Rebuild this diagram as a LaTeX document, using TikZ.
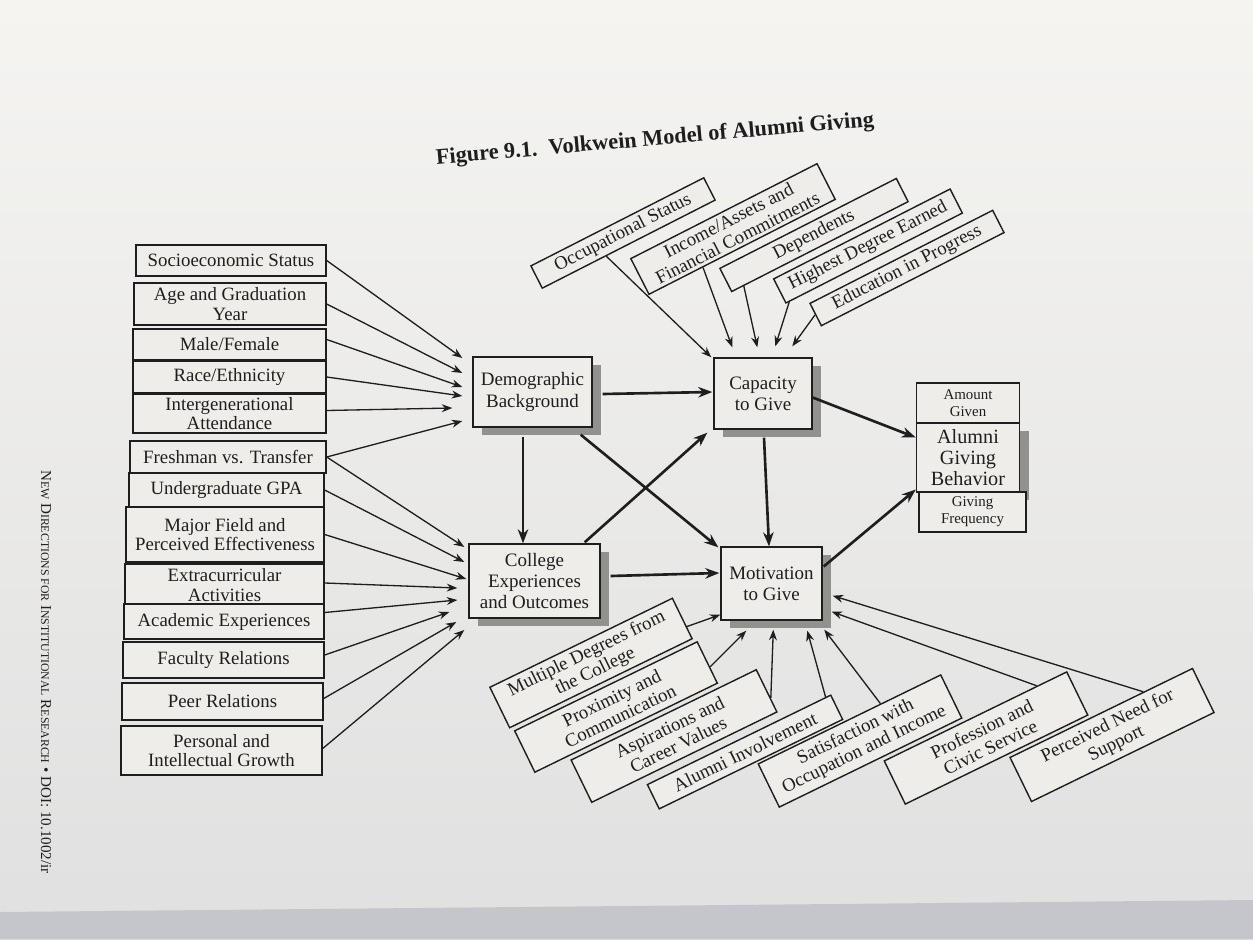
\documentclass[tikz,border=0pt]{standalone}
\usepackage{fontspec}
\setmainfont{Liberation Serif}
\usetikzlibrary{arrows.meta,calc,shadows}
\definecolor{paperT}{RGB}{245,244,241}
\definecolor{paperB}{RGB}{224,224,224}
\definecolor{paper}{RGB}{238,237,233}
\definecolor{band}{RGB}{196,198,204}
\definecolor{ink}{RGB}{30,30,30}
\definecolor{shade}{RGB}{145,145,141}
\newcommand\fsc[1]{{\fontsize{6.7}{7}\selectfont #1}}
\begin{document}
\begin{tikzpicture}[x=0.02cm,y=-0.02cm,
  box/.style={draw=ink,line width=0.8pt,fill=paper,inner sep=0.5pt,align=center,
    font=\fontsize{10.7}{11.2}\selectfont,text=ink},
  wh/.style 2 args={minimum width=#1*0.02cm,minimum height=#2*0.02cm},
  core/.style={box,font=\fontsize{10.8}{12}\selectfont,
    drop shadow={shadow xshift=0.18cm,shadow yshift=-0.15cm,fill=shade,opacity=1}},
  tiltup/.style={box,rotate=27},
  tiltdn/.style={box,rotate=26},
  thin/.style={draw=ink,line width=0.75pt,-{Stealth[length=6pt,width=4.5pt]}},
  thick/.style={draw=ink,line width=1.5pt,-{Stealth[length=8pt,width=6pt]}},
]
\useasboundingbox (0,0) rectangle (1253,939);
\shade[top color=paperT,bottom color=paperB] (0,0) rectangle (1253,939);
\fill[band] (0,912) -- (1253,900) -- (1253,939) -- (0,939) -- cycle;

% title and side text
\node[rotate=5,font=\bfseries\fontsize{12.7}{14}\selectfont,text=ink] (title) at (655,140)
  {Figure 9.1.\ \ Volkwein Model of Alumni Giving};
\node[rotate=-90,font=\fontsize{8.6}{9}\selectfont,text=ink] (side) at (46,672)
  {N\fsc{EW} D\fsc{IRECTIONS FOR} I\fsc{NSTITUTIONAL} R\fsc{ESEARCH} \textbullet{} DOI: 10.1002/ir};

% core boxes
\node[core,wh={119}{70}] (demo) at (532.5,392) {Demographic\\Background};
\node[core,wh={98}{71}] (cap) at (763,393.5) {Capacity\\to Give};
\node[core,wh={131}{74}] (coll) at (534.5,581) {College\\Experiences\\and Outcomes};
\node[core,wh={101}{73}] (mot) at (771.5,583.5) {Motivation\\to Give};

% alumni giving behavior stack
\node[core,wh={103}{69},font=\fontsize{11.5}{11.8}\selectfont] (agb) at (968,457.5) {Alumni\\Giving\\Behavior};
\node[box,wh={103}{40},font=\fontsize{8.5}{9.5}\selectfont] (amt) at (968,403) {Amount\\Given};
\node[box,wh={107}{40},font=\fontsize{8.5}{9.5}\selectfont] (freq) at (972.5,512) {Giving\\Frequency};

% left boxes
\node[box,wh={190}{31}] (socio) at (231,260.5) {Socioeconomic Status};
\node[box,wh={192}{42}] (age) at (230,304) {Age and Graduation\\Year};
\node[box,wh={193}{31}] (male) at (229.5,344.5) {Male/Female};
\node[box,wh={193}{32}] (race) at (229.5,377) {Race/Ethnicity};
\node[box,wh={193}{39}] (inter) at (229.5,413.5) {Intergenerational\\Attendance};
\node[box,wh={196}{32}] (fresh) at (228,457) {Freshman vs. Transfer};
\node[box,wh={195}{34}] (gpa) at (226.5,490) {Undergraduate GPA};
\node[box,wh={198}{55}] (major) at (225,534.5) {Major Field and\\Perceived Effectiveness};
\node[box,wh={199}{42}] (extra) at (224.5,585) {Extracurricular\\Activities};
\node[box,wh={200}{35}] (acad) at (224,621.5) {Academic Experiences};
\node[box,wh={201}{36}] (fac) at (223.5,660) {Faculty Relations};
\node[box,wh={201}{37}] (peer) at (222.5,701.5) {Peer Relations};
\node[box,wh={201}{49}] (pers) at (221.5,750.5) {Personal and\\Intellectual Growth};

% top boxes
\node[tiltup,wh={194}{25}] (occ) at (623,233) {Occupational Status};
\node[tiltup,wh={209}{40}] (inc) at (733,229) {Income/Assets and\\Financial Commitments};
\node[tiltup,wh={198}{26}] (dep) at (814,235) {Dependents};
\node[tiltup,wh={198}{27}] (hde) at (868,246) {Highest Degree Earned};
\node[tiltup,wh={205}{25}] (edu) at (907,268) {Education in Progress};

% bottom boxes
\node[tiltdn,wh={203}{45}] (mdeg) at (591,663) {Multiple Degrees from\\the College};
\node[tiltdn,wh={203}{46}] (prox) at (616,707) {Proximity and\\Communication};
\node[tiltdn,wh={206}{47}] (asp) at (674,736) {Aspirations and\\Career Values};
\node[tiltdn,wh={204}{27}] (ainv) at (745,752) {Alumni Involvement};
\node[tiltdn,wh={203}{48}] (sat) at (860,741) {Satisfaction with\\Occupation and Income};
\node[tiltdn,wh={203}{48}] (prof) at (986,738) {Profession and\\Civic Service};
\node[tiltdn,wh={203}{49}] (perc) at (1112,735) {Perceived Need for\\Support};

% left arrows into demographic background
\draw[thin] (socio.east) -- ($(demo.west)+(-10,-34)$);
\draw[thin] (age.east) -- ($(demo.west)+(-10,-19)$);
\draw[thin] ($(male.east)+(0,-5)$) -- ($(demo.west)+(-10,-5)$);
\draw[thin] (race.east) -- ($(demo.west)+(-10,4)$);
\draw[thin] ($(inter.east)+(0,-3)$) -- ($(demo.west)+(-20,16)$);
\draw[thin] (fresh.east) -- ($(demo.west)+(-10,29)$);
% left arrows into college experiences
\draw[thin] (fresh.east) -- ($(coll.west)+(-4,-34)$);
\draw[thin] (gpa.east) -- ($(coll.west)+(-4,-19)$);
\draw[thin] (major.east) -- ($(coll.west)+(-2,-2)$);
\draw[thin] ($(extra.east)+(0,-2)$) -- ($(coll.west)+(-11,7)$);
\draw[thin] ($(acad.east)+(0,-9)$) -- ($(coll.west)+(-11,19)$);
\draw[thin] ($(fac.east)+(0,-5)$) -- ($(coll.west)+(-19,31)$);
\draw[thin] ($(peer.east)+(0,-3)$) -- ($(coll.west)+(-12,41)$);
\draw[thin] ($(pers.east)+(0,-2)$) -- ($(coll.west)+(-4,49)$);

% core arrows
\draw[thick] ($(demo.east)+(10,2)$) -- ($(cap.west)+(-1,-1.5)$);
\draw[thick] ($(demo.south)+(-9.5,9)$) -- ($(coll.north)+(-11.5,0)$);
\draw[thick] ($(demo.south east)+(-12,7)$) -- ($(mot.north west)+(-2,1)$);
\draw[thick] ($(coll.north east)+(-16,-1)$) -- ($(cap.south west)+(-6,3)$);
\draw[thick] ($(coll.east)+(10,-5)$) -- ($(mot.west)+(-1,-10.5)$);
\draw[thick] ($(cap.south)+(1,8)$) -- ($(mot.north)+(-2.5,0)$);
\draw[thick] ($(cap.east)+(0,4)$) -- ($(agb.west)+(0,-20)$);
\draw[thick] ($(mot.east)+(1,-17)$) -- ($(agb.west)+(0,32)$);

% top arrows into capacity
\draw[thin] ($(occ.south west)!0.37!(occ.south east)$) -- ($(cap.north west)+(-2,0)$);
\draw[thin] ($(inc.south west)!0.29!(inc.south east)$) -- ($(cap.north west)+(19,-10)$);
\draw[thin] ($(dep.south west)!0.07!(dep.south east)$) -- ($(cap.north west)+(44,-10)$);
\draw[thin] ($(hde.south west)!0.02!(hde.south east)$) -- ($(cap.north west)+(62,-11)$);
\draw[thin] ($(edu.north west)!0.5!(edu.south west)$) -- ($(cap.north west)+(79,-11)$);

% bottom arrows into motivation
\draw[thin] ($(mdeg.north east)!0.7!(mdeg.south east)$) -- ($(mot.south west)+(0,-6)$);
\draw[thin] ($(prox.north east)!0.61!(prox.south east)$) -- ($(mot.south west)+(26,10)$);
\draw[thin] ($(asp.north east)!0.67!(asp.south east)$) -- ($(mot.south west)+(53,9)$);
\draw[thin] ($(ainv.north west)!0.97!(ainv.north east)$) -- ($(mot.south west)+(87,10)$);
\draw[thin] ($(sat.north west)!0.67!(sat.north east)$) -- ($(mot.south west)+(104,9)$);
\draw[thin] ($(prof.north west)!0.835!(prof.north east)$) -- ($(mot.south east)+(9,-9)$);
\draw[thin] ($(perc.north west)!0.73!(perc.north east)$) -- ($(mot.south east)+(10,-25)$);
\end{tikzpicture}
\end{document}
